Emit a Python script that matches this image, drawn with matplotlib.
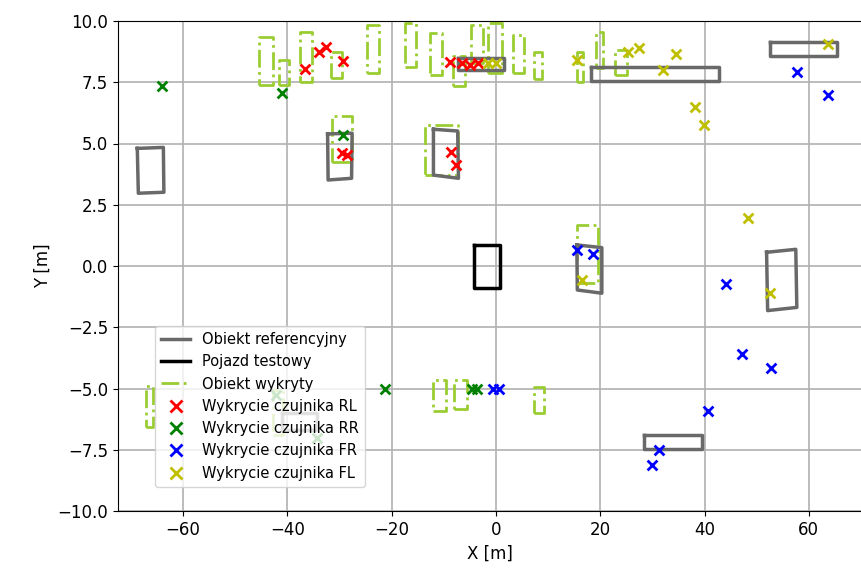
import matplotlib
matplotlib.use('Agg')
import matplotlib.pyplot as plt
from matplotlib.lines import Line2D
import numpy as np

# reference objects (grey), corners as (x, y)
ref_boxes = [
    [(-68.8, 4.80), (-63.8, 4.84), (-63.7, 3.01), (-68.6, 2.97)],
    [(-32.3, 5.39), (-27.6, 5.42), (-27.7, 3.58), (-32.2, 3.51)],
    [(-12.0, 5.58), (-7.35, 5.51), (-7.2, 3.58), (-12.0, 3.71)],
    [(-7.2, 8.50), (1.5, 8.50), (1.5, 8.0), (-7.2, 8.0)],
    [(18.2, 8.13), (42.8, 8.13), (42.8, 7.56), (18.2, 7.56)],
    [(52.5, 9.16), (65.5, 9.16), (65.5, 8.58), (52.5, 8.58)],
    [(15.5, 0.86), (20.3, 0.75), (20.3, -1.11), (15.6, -0.98)],
    [(51.9, 0.56), (57.5, 0.68), (57.7, -1.69), (52.1, -1.82)],
    [(28.4, -6.90), (39.6, -6.90), (39.6, -7.47), (28.4, -7.47)],
    [(-41.1, -6.0), (-34.4, -6.0), (-34.4, -6.7), (-41.1, -6.7)],
]

# test vehicle
vehicle = [(-4.2, 0.86), (0.8, 0.86), (0.8, -0.9), (-4.2, -0.9)]

# detected objects: x0, x1, y0, y1
det_boxes = [
    (-45.4, -42.7, 7.39, 9.33),
    (-41.7, -39.7, 7.39, 8.41),
    (-37.5, -35.3, 7.52, 9.56),
    (-31.7, -29.6, 7.66, 8.75),
    (-24.7, -22.4, 7.87, 9.84),
    (-17.4, -15.3, 8.11, 9.9),
    (-12.6, -10.4, 7.8, 9.52),
    (-8.2, -5.9, 7.35, 8.57),
    (-4.85, -2.4, 8.27, 9.84),
    (-1.5, 1.1, 7.87, 9.9),
    (3.2, 5.4, 7.87, 9.43),
    (7.3, 8.9, 7.63, 8.72),
    (15.5, 16.7, 7.52, 8.75),
    (19.2, 20.5, 8.07, 9.56),
    (22.8, 25.1, 7.8, 8.82),
    (-31.5, -27.7, 4.26, 6.13),
    (-13.6, -7.2, 3.71, 5.76),
    (15.5, 19.6, -0.71, 1.67),
    (-67.1, -65.8, -6.58, -4.89),
    (-42.7, -40.8, -6.9, -5.06),
    (-12.0, -9.65, -5.9, -4.65),
    (-8.05, -5.6, -5.85, -4.65),
    (7.3, 9.2, -5.99, -4.93),
]

# sensor detections
rl_x = [-36.6, -33.9, -32.6, -29.4, -29.6, -28.6, -8.8, -6.6, -5.0, -3.5, -8.7, -7.7]
rl_y = [8.03, 8.75, 8.95, 8.38, 4.6, 4.53, 8.34, 8.27, 8.22, 8.27, 4.67, 4.12]

rr_x = [-64.1, -41.0, -29.3, -42.1, -34.4, -21.3, -4.6, -3.6]
rr_y = [7.35, 7.06, 5.35, -5.27, -7.03, -5.04, -5.0, -5.0]

fr_x = [57.8, 63.6, 15.5, 18.7, 44.2, 47.1, 52.7, 40.7, 31.3, 29.9, -0.6, 0.6]
fr_y = [7.93, 6.98, 0.65, 0.49, -0.73, -3.6, -4.18, -5.9, -7.5, -8.12, -5.0, -5.0]

fl_x = [15.5, -1.5, 0.0, 25.4, 27.4, 32.1, 34.5, 38.2, 39.8, 63.6, 48.4, 52.5, 16.4]
fl_y = [8.41, 8.27, 8.27, 8.75, 8.89, 8.0, 8.64, 6.5, 5.76, 9.05, 1.97, -1.09, -0.57]

GREY = 'dimgray'
DET = 'yellowgreen'

fig = plt.figure(figsize=(8.61, 5.75), dpi=100)
ax = fig.add_axes([118 / 861, 64 / 575, 744 / 861, 490 / 575])

# detected objects
for x0, x1, y0, y1 in det_boxes:
    ax.plot([x0, x1, x1, x0, x0], [y0, y0, y1, y1, y0], color=DET, linestyle='-.', lw=2)

# reference objects
for box in ref_boxes:
    pts = np.array(box + [box[0]])
    ax.plot(pts[:, 0], pts[:, 1], color=GREY, lw=2.5)

pts = np.array(vehicle + [vehicle[0]])
ax.plot(pts[:, 0], pts[:, 1], color='black', lw=2.5)

ax.scatter(rl_x, rl_y, marker='x', color='r', s=50, linewidths=2, zorder=3)
ax.scatter(rr_x, rr_y, marker='x', color='g', s=50, linewidths=2, zorder=3)
ax.scatter(fr_x, fr_y, marker='x', color='b', s=50, linewidths=2, zorder=3)
ax.scatter(fl_x, fl_y, marker='x', color='y', s=50, linewidths=2, zorder=3)

ax.set_xlim(-72.5, 70.2)
ax.set_ylim(-10, 10)
ax.set_xticks([-60, -40, -20, 0, 20, 40, 60])
ax.set_yticks(np.arange(-10, 10.1, 2.5))
ax.tick_params(labelsize=12)
ax.set_xlabel('X [m]', fontsize=12)
ax.set_ylabel('Y [m]', fontsize=12)
ax.grid(True, color='#b0b0b0', lw=1.2)
ax.set_axisbelow(True)

handles = [
    Line2D([], [], color=GREY, lw=2.5),
    Line2D([], [], color='black', lw=2.5),
    Line2D([], [], color=DET, lw=2, linestyle='-.'),
    Line2D([], [], color='r', marker='x', linestyle='none', markersize=9, mew=2),
    Line2D([], [], color='g', marker='x', linestyle='none', markersize=9, mew=2),
    Line2D([], [], color='b', marker='x', linestyle='none', markersize=9, mew=2),
    Line2D([], [], color='y', marker='x', linestyle='none', markersize=9, mew=2),
]
labels = ['Obiekt referencyjny', 'Pojazd testowy', 'Obiekt wykryty',
          'Wykrycie czujnika RL', 'Wykrycie czujnika RR',
          'Wykrycie czujnika FR', 'Wykrycie czujnika FL']
ax.legend(handles, labels, loc='lower left', bbox_to_anchor=(0.05, 0.05),
          borderaxespad=0, fontsize=10.5)

fig.savefig('out.png', dpi=100)
